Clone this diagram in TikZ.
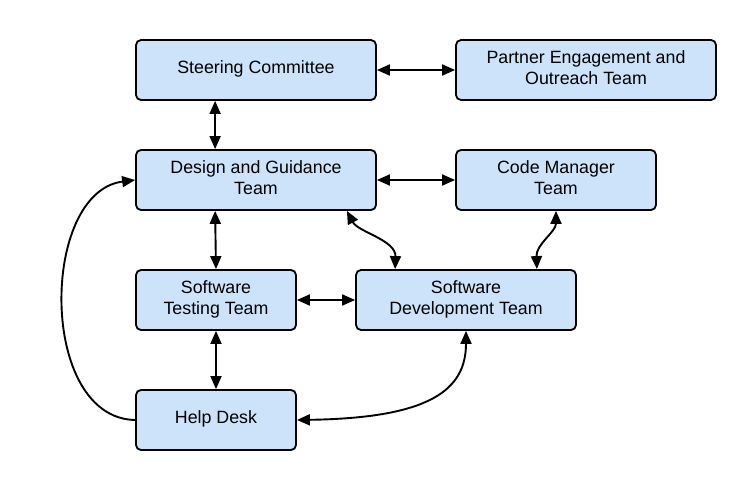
\documentclass[tikz,border=0pt]{standalone}
\usepackage{fontspec}
\setmainfont{Liberation Sans}
\usetikzlibrary{arrows.meta}
\definecolor{boxblue}{HTML}{CCE3FA}
\begin{document}
\begin{tikzpicture}[x=1pt,y=-1pt,
  team/.style={draw=black, fill=boxblue, line width=1.8pt, rounded corners=5pt,
    align=center, inner sep=0pt, text depth=5pt, font=\fontsize{17.8}{21.5}\selectfont},
  link/.style={line width=1.9pt, {Triangle[length=13pt,width=11pt]}-{Triangle[length=13pt,width=11pt]}},
  onelink/.style={line width=1.9pt, -{Triangle[length=13pt,width=11pt]}}]
\useasboundingbox (0,0) rectangle (756,490);
\node[team, minimum width=240pt, minimum height=60pt] (sc) at (256,70) {Steering Committee};
\node[team, minimum width=260pt, minimum height=60pt] (pe) at (586,70) {Partner Engagement and\\Outreach Team};
\node[team, minimum width=240pt, minimum height=60pt] (dg) at (256,180) {Design and Guidance\\Team};
\node[team, minimum width=200pt, minimum height=60pt] (cm) at (556,180) {Code Manager\\Team};
\node[team, minimum width=160pt, minimum height=60pt] (st) at (216,300) {Software\\Testing Team};
\node[team, minimum width=220pt, minimum height=60pt] (sd) at (466,300) {Software\\Development Team};
\node[team, minimum width=160pt, minimum height=60pt] (hd) at (216,420) {Help Desk};

\draw[link] (sc.east) -- (pe.west);
\coordinate (scs) at ([xshift=80pt]sc.south west);
\coordinate (dgn) at ([xshift=80pt]dg.north west);
\coordinate (dgsl) at ([xshift=80pt]dg.south west);
\draw[link] (scs) -- (dgn);
\draw[link] (dg.east) -- (cm.west);
\draw[link] (dgsl) -- (st.north);
\draw[link] (st.east) -- (sd.west);
\draw[link] (st.south) -- (hd.north);
\coordinate (dgs) at ([xshift=-30pt]dg.south east);
\coordinate (sdn) at ([xshift=40pt]sd.north west);
\draw[link] (dgs) .. controls (358,232) and (396,240) .. (sdn);
\coordinate (cms) at (cm.south);
\coordinate (sdn2) at ([xshift=-40pt]sd.north east);
\draw[link] (cms) .. controls (556,232) and (536,244) .. (sdn2);
\draw[link] (hd.east) .. controls (430,418) and (466,390) .. (sd.south);
\draw[onelink] (hd.west) .. controls (38,418) and (40,192) .. (dg.west);
\end{tikzpicture}
\end{document}
